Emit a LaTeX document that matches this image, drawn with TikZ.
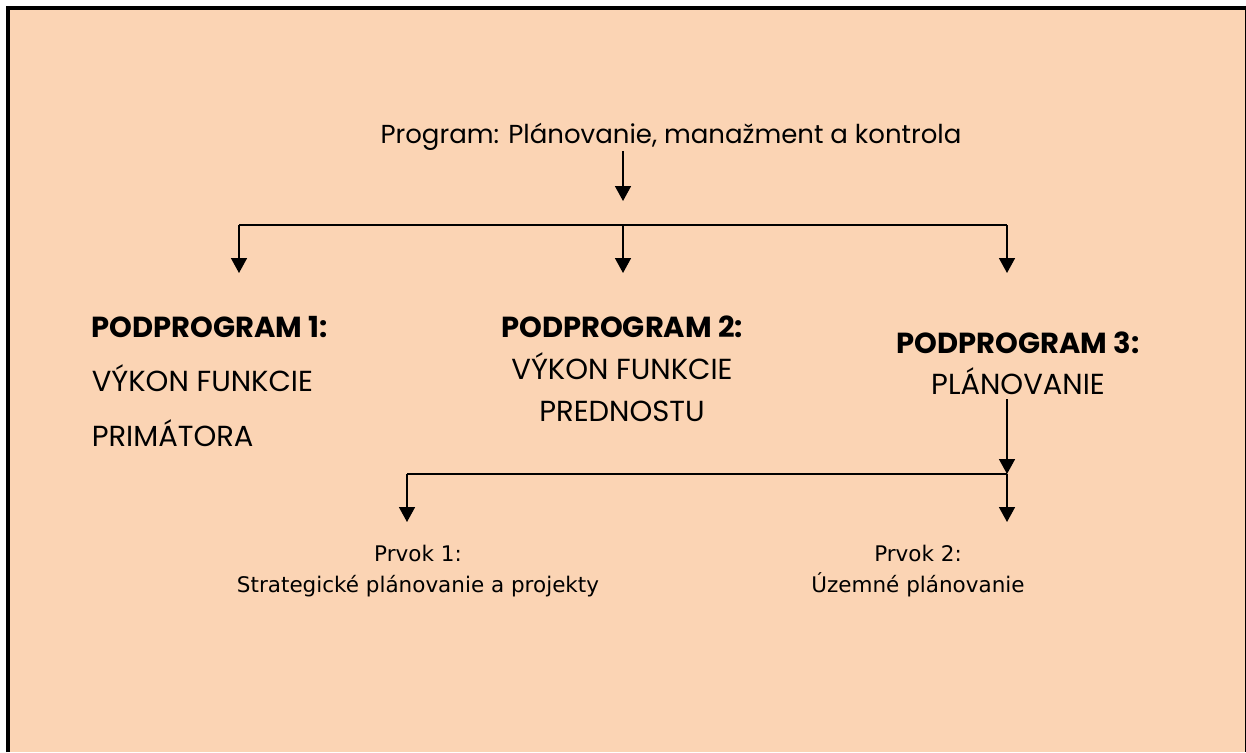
\documentclass[tikz,border=0pt]{standalone}
\usepackage{fontspec}
\setmainfont{Poppins}
\newfontfamily\prvokfont{DejaVu Sans}
\usetikzlibrary{arrows.meta}
\definecolor{bg_peach}{RGB}{251,212,180}

\begin{document}
\begin{tikzpicture}[x=1pt,y=-1pt,line width=1.6pt,>={Triangle[width=16pt,length=15pt]}]
    \tikzstyle{txt}=[inner sep=0pt, text=black, font=\fontsize{29}{42}\selectfont]
    \tikzstyle{head}=[style=txt, align=center, anchor=base]
    \tikzstyle{prvok}=[inner sep=0pt, text=black, font=\prvokfont\fontsize{21.5}{31}\selectfont, align=center, anchor=base]

    % frame
    \useasboundingbox (0,0) rectangle (1246,752);
    \fill[bg_peach] (8,8) rectangle (1245,752);
    \draw[line width=4pt] (8,752) -- (8,8) -- (1246,8);
    \draw[line width=1pt] (1245.5,6) -- (1245.5,752);

    % base anchor = last line
    \node[head, font=\fontsize{26}{30}\selectfont] (prog) at (671,143) {Program: Plánovanie, manažment a kontrola};
    \node[txt, align=left, anchor=base west, font=\fontsize{29}{54.5}\selectfont] (pp1) at (91,446)
        {\textbf{PODPROGRAM 1:}\\VÝKON FUNKCIE\\PRIMÁTORA};
    \node[head] (pp2) at (622,421) {\textbf{PODPROGRAM 2:}\\VÝKON FUNKCIE\\PREDNOSTU};
    \node[head, font=\fontsize{29}{41}\selectfont] (pp3) at (1018,394) {\textbf{PODPROGRAM 3:}\\PLÁNOVANIE};
    \node[prvok] (pr1) at (418,592) {Prvok 1:\\Strategické plánovanie a projekty};
    \node[prvok] (pr2) at (918,592) {Prvok 2:\\Územné plánovanie};

    % junctions
    \coordinate (jt) at (623,225);
    \coordinate (jl) at (239,225);
    \coordinate (jr) at (1007,225);
    \coordinate (dl) at (239,273);
    \coordinate (dt) at (623,273);
    \coordinate (dr) at (1007,273);
    \coordinate (kl) at (407,474);
    \coordinate (kr) at (1007,474);
    \coordinate (el) at (407,522);
    \coordinate (er) at (1007,522);

    \draw (jl) -- (jr);
    \draw (kl) -- (kr);
    \path[->]
     (prog.south -| jt) edge ([yshift=24pt]jt)
     (jl) edge (dl)
     (jt) edge (dt)
     (jr) edge (dr)
     (pp3.south -| kr) edge[shorten <=4pt] (kr)
     (kl) edge (el)
     (kr) edge (er)
     ;
\end{tikzpicture}
\end{document}
